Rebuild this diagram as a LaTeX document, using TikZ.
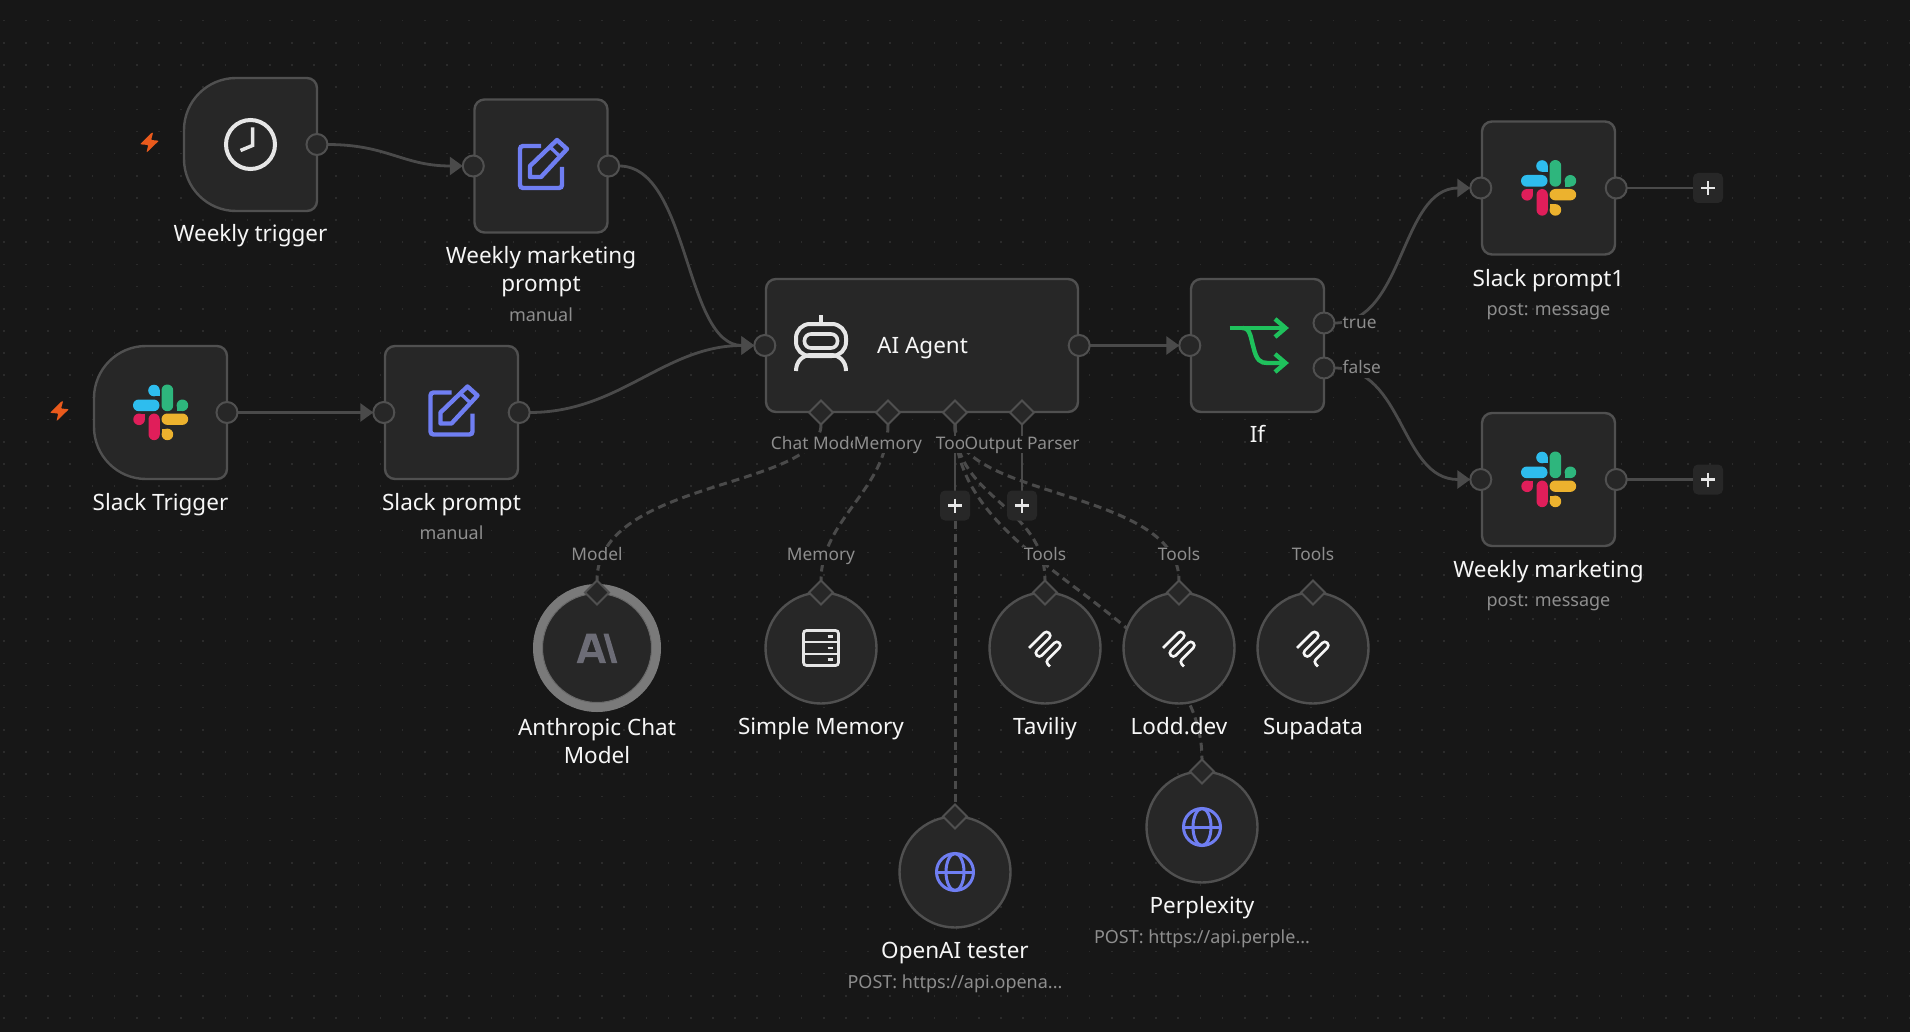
\documentclass[tikz,border=0pt]{standalone}
\usepackage{fontspec}
\setmainfont{Noto Sans}
\usetikzlibrary{arrows.meta,shapes.geometric}
\pgfdeclarelayer{wires}\pgfdeclarelayer{under}
\pgfsetlayers{under,wires,main}
\definecolor{bgc}{HTML}{171717}
\definecolor{dotc}{HTML}{2B2B2B}
\definecolor{bodyc}{HTML}{272727}
\definecolor{edgec}{HTML}{505050}
\definecolor{wirec}{HTML}{4A4A4A}
\definecolor{namec}{HTML}{F6F6F6}
\definecolor{subc}{HTML}{8E8E8E}
\definecolor{iconw}{HTML}{E6E6E6}
\definecolor{blueic}{HTML}{6F7EF2}
\definecolor{greenic}{HTML}{1FC15C}
\definecolor{boltc}{HTML}{EA5A1C}
\definecolor{slb}{HTML}{2EBDEE}
\definecolor{slg}{HTML}{2EB67D}
\definecolor{slr}{HTML}{E01E5A}
\definecolor{sly}{HTML}{ECB22E}
\definecolor{ringc}{HTML}{7A7A7A}
\definecolor{anthc}{HTML}{6C6C76}
\tikzset{
  bodypath/.style={fill=bodyc,draw=edgec,line width=2.4pt},
  box/.style={bodypath,rectangle,rounded corners=10pt,minimum width=133pt,minimum height=133pt,inner sep=0pt},
  agentbox/.style={bodypath,rectangle,rounded corners=10pt,minimum width=312pt,minimum height=133pt,inner sep=0pt},
  round/.style={bodypath,circle,minimum size=111pt,inner sep=0pt},
  port/.style={circle,fill=bodyc,draw=edgec,line width=2pt,minimum size=21pt,inner sep=0pt,outer sep=0pt},
  socket/.style={diamond,fill=bodyc,draw=edgec,line width=2pt,minimum width=24pt,minimum height=24pt,inner sep=0pt,aspect=1,outer sep=0pt},
  plusbox/.style={rectangle,fill=bodyc,rounded corners=5pt,minimum size=30pt,inner sep=0pt,outer sep=0pt},
  wire/.style={draw=wirec,line width=2.8pt},
  dwire/.style={wire,line width=3pt,dash pattern=on 8pt off 5pt},
  tip/.style={-{Triangle[length=13pt,width=18pt]}},
  nameline/.style={text=namec,align=center,inner sep=0pt,font=\fontsize{22.5}{28}\selectfont},
  one/.style={nameline,text height=16pt,text depth=0.5pt},
  subline/.style={text=subc,inner sep=0pt,font=\fontsize{18}{22}\selectfont,text height=13pt,text depth=1pt},
  tag/.style={text=subc,fill=bgc,inner sep=0.5pt,font=\fontsize{17.3}{22}\selectfont,text height=13pt,text depth=3.5pt},
  trigbody/.pic={\draw[bodypath] (-14.5,-66.5) -- (56.5,-66.5) .. controls (62,-66.5) and (66.5,-62) .. (66.5,-56.5) -- (66.5,56.5) .. controls (66.5,62) and (62,66.5) .. (56.5,66.5) -- (-14.5,66.5) .. controls (-43.2,66.5) and (-66.5,43.2) .. (-66.5,14.5) -- (-66.5,-14.5) .. controls (-66.5,-43.2) and (-43.2,-66.5) .. (-14.5,-66.5) -- cycle;},
  bolt/.pic={\fill[boltc,rounded corners=0.8pt] (2.3,-10.3) -- (-9.5,1.3) -- (-1.3,2) -- (-3,9.7) -- (9.4,-2.3) -- (1.6,-3) -- (3.6,-10.3) -- cycle;},
  clockicon/.pic={\draw[iconw,line width=4pt] (0,0) circle (24.5pt);
    \draw[iconw,line width=3.5pt] (2,-17) -- (2,1) -- (-10,6);},
  editicon/.pic={\draw[blueic,line width=4.4pt,rounded corners=3pt] (0,-20) -- (-21,-20) -- (-21,22) -- (21,22) -- (21,1);
    \draw[blueic,line width=4.4pt,line join=round] (-11,11) -- (-11,0) -- (16,-26) -- (26,-17) -- (0,11) -- cycle;
    \draw[blueic,line width=3.4pt] (9,-19) -- (19.5,-9);},
  slacklogo/.pic={
    \fill[slb,rounded corners=5.8pt] (-27.5,-13) rectangle (-1,-1.3);
    \fill[slb] (-6.5,-22) circle (5.8pt); \fill[slb] (-6.5,-22) rectangle (-0.7,-16.2);
    \fill[slg,rounded corners=5.8pt] (1,-28) rectangle (12.7,-1.3);
    \fill[slg] (21.9,-7.2) circle (5.8pt); \fill[slg] (16,-7.2) rectangle (21.9,-1.3);
    \fill[slr,rounded corners=5.8pt] (-12,1) rectangle (-0.7,27.7);
    \fill[slr] (-21.4,6.8) circle (5.8pt); \fill[slr] (-21.4,1) rectangle (-15.6,6.8);
    \fill[sly,rounded corners=5.8pt] (1,1) rectangle (27.7,12.4);
    \fill[sly] (6.9,21.9) circle (5.8pt); \fill[sly] (1,16) rectangle (6.9,21.9);},
  roboticon/.pic={\begin{scope}[iconw,line width=4pt]
    \draw (0,-25) -- (0,-16);
    \draw[rounded corners=14pt] (-25,-16) rectangle (25,16);
    \draw[rounded corners=6.5pt,line width=3.6pt] (-16.5,-6) rectangle (16.5,8);
    \draw (-25,31) .. controls (-25,21) and (-18,15) .. (-10,15) -- (10,15) .. controls (18,15) and (25,21) .. (25,31);
    \end{scope}},
  ificon/.pic={\begin{scope}[greenic,line width=4.4pt]
    \draw (-28,-17.5) -- (28,-17.5);
    \draw (17.5,-26.5) -- (28,-17.5) -- (17.5,-8.5);
    \draw (-15,-17.5) .. controls (-7,-17.5) and (-7,-8) .. (-4,2) .. controls (-1,15) and (3,17.5) .. (10,17.5) -- (28,17.5);
    \draw (17.5,8.5) -- (28,17.5) -- (17.5,26.5);
    \end{scope}},
  anthicon/.pic={\fill[anthc,even odd rule] (-20.3,15) -- (-10.5,-14.3) -- (-1,-14.3) -- (9,15) -- (2.7,15) -- (0.6,9) -- (-11.7,9) -- (-13.8,15) -- cycle
      (-10,4) -- (-1,4) -- (-5.5,-9) -- cycle;
    \fill[anthc] (6.5,-14.3) -- (11.5,-14.3) -- (20.3,15) -- (14.7,15) -- cycle;},
  dbicon/.pic={\begin{scope}[iconw,line width=2.8pt]
    \draw[rounded corners=3pt] (-17.5,-17.5) rectangle (17.5,17.5);
    \draw (-17.5,-6) -- (17.5,-6);
    \draw (-17.5,6) -- (17.5,6);
    \draw (6.5,-11.8) -- (12,-11.8);
    \draw (6.5,0) -- (12,0);
    \draw (6.5,11.6) -- (12,11.6);
    \end{scope}},
  wireicon/.pic={\begin{scope}[x={(0.707pt,0.707pt)},y={(0.707pt,-0.707pt)}]
    \draw[namec,line width=2.6pt,rounded corners=3.4pt] (-11.3,-11.3) -- (13.5,-11.3) -- (13.5,-4) -- (-11,-4) -- (-11,3) -- (13.7,3) -- (13.7,10) -- (-9.5,10) -- (-9.5,16.5);
    \end{scope}},
  globeicon/.pic={\begin{scope}[blueic,line width=3pt]
    \draw (0,0) circle (18.5pt);
    \draw (0,0) ellipse (9pt and 18.5pt);
    \draw (-18.5,0) -- (18.5,0);
    \end{scope}},
  plusicon/.pic={\draw[iconw,line width=2.4pt] (-7,0) -- (7,0) (0,-7) -- (0,7);}
}
\begin{document}
\begin{tikzpicture}[x=1pt,y=-1pt]
\useasboundingbox (0,0) rectangle (1910,1032);
\begin{pgfonlayer}{under}
\fill[bgc] (0,0) rectangle (1910,1032);
\foreach \j in {0,...,46}{\draw[dotc,line width=1.6pt,dash pattern=on 1.6pt off 20.56pt] (3,{-1.46+22.16*\j}) -- (1910,{-1.46+22.16*\j});}
\end{pgfonlayer}

\coordinate (cwt) at (250.5,144.5);
\coordinate (cwm) at (541,166);
\coordinate (cst) at (160.5,412.5);
\coordinate (csp) at (451.5,412.5);
\coordinate (cag) at (922,345.5);
\coordinate (cif) at (1257.5,345.5);
\coordinate (csa) at (1548.5,188);
\coordinate (csb) at (1548.5,479.5);

% nodes that hold the ports
\pic at (cwt) {trigbody};
\pic at (cst) {trigbody};
\node[box] (wmbody) at (cwm) {};
\node[box] (spbody) at (csp) {};
\node[agentbox] (agbody) at (cag) {};
\node[box] (ifbody) at (cif) {};
\node[box] (sabody) at (csa) {};
\node[box] (sbbody) at (csb) {};

% ports
\node[port] (wtout) at (317,144.5) {};
\node[port] (wmin) at (wmbody.west) {};
\node[port] (wmout) at (wmbody.east) {};
\node[port] (stout) at (227,412.5) {};
\node[port] (spin) at (spbody.west) {};
\node[port] (spout) at (spbody.east) {};
\node[port] (agin) at (agbody.west) {};
\node[port] (agout) at (agbody.east) {};
\node[port] (ifin) at (ifbody.west) {};
\node[port] (iftrue) at (1324,323) {};
\node[port] (iffalse) at (1324,368) {};
\node[port] (sain) at (sabody.west) {};
\node[port] (saout) at (sabody.east) {};
\node[port] (sbin) at (sbbody.west) {};
\node[port] (sbout) at (sbbody.east) {};
\node[socket] (dchat) at (821,412.5) {};
\node[socket] (dmem) at (888,412.5) {};
\node[socket] (dtool) at (955,412.5) {};
\node[socket] (dout) at (1022,412.5) {};

\node[plusbox] (plusa) at (1708,188) {};
\node[plusbox] (plusb) at (1708,479.5) {};
\node[plusbox] (plusc) at (955,505.5) {};
\node[plusbox] (plusd) at (1022,505.5) {};

% circular nodes
\node[circle,draw=ringc,line width=10pt,minimum size=118pt,inner sep=0pt] (anthring) at (597,648) {};
\node[round,draw=ringc!80!bodyc,line width=1pt,minimum size=109pt] (anth) at (597,648) {};
\node[round] (simple) at (821,648) {};
\node[round] (tav) at (1045,648) {};
\node[round] (lodd) at (1179,648) {};
\node[round] (supa) at (1313,648) {};
\node[round] (perp) at (1202,827) {};
\node[round] (oai) at (955,872) {};
\node[socket] (danth) at (597,592.5) {};
\node[socket] (dsimple) at (821,592.5) {};
\node[socket] (dtav) at (1045,592.5) {};
\node[socket] (dlodd) at (1179,592.5) {};
\node[socket] (dsupa) at (1313,592.5) {};
\node[socket] (dperp) at (1202,771.5) {};
\node[socket] (doai) at (955,816.5) {};

% wires
\begin{pgfonlayer}{wires}
\draw[wire,tip] (wtout.east) .. controls +(60,0) and +(-60,0) .. (wmin.west);
\draw[wire,tip] (wmout.east) .. controls +(70,0) and +(-70,0) .. (agin.west);
\draw[wire,tip] (stout.east) -- (spin.west);
\draw[wire,tip] (spout.east) .. controls +(90,0) and +(-90,0) .. (agin.west);
\draw[wire,tip] (agout.east) -- (ifin.west);
\draw[wire,tip] (iftrue.east) .. controls +(70,0) and +(-70,0) .. (sain.west);
\draw[wire,tip] (iffalse.east) .. controls +(70,0) and +(-70,0) .. (sbin.west);
\draw[wire] (saout.east) -- (plusa.west);
\draw[wire] (sbout.east) -- (plusb.west);
\draw[wire] (dtool.south) -- (plusc.north);
\draw[wire] (dout.south) -- (plusd.north);
\draw[dwire] (dchat.south) .. controls +(0,65) and +(0,-102) .. (danth.north);
\draw[dwire] (dmem.south) .. controls +(0,65) and +(0,-62) .. (dsimple.north);
\draw[dwire] (plusc.south) -- (doai.north);
\draw[dwire] (dtool.south) .. controls +(0,75) and +(0,-75) .. (dtav.north);
\draw[dwire] (dtool.south) .. controls +(0,75) and +(0,-92) .. (dlodd.north);
\draw[dwire] (dtool.south) .. controls +(0,145) and +(0,-150) .. (dperp.north);
\end{pgfonlayer}

% tags on sockets
\node[tag] (tchat) at (817.5,444.5) {Chat Model};
\node[tag] (tmem) at (888,444.5) {Memory};
\node[tag] (ttool) at (957,444.5) {Tools};
\node[tag] (tout) at (1022,444.5) {Output Parser};
\node[tag] (tanth) at (597,556) {Model};
\node[tag] (tsimple) at (821,556) {Memory};
\node[tag] (ttav) at (1045,556) {Tools};
\node[tag] (tlodd) at (1179,556) {Tools};
\node[tag] (tsupa) at (1313,556) {Tools};
\node[tag,anchor=west] (ttrue) at (1342,324) {true};
\node[tag,anchor=west] (tfalse) at (1342,369) {false};

% icons
\pic at (149.5,143) {bolt};
\pic at (59.5,411.5) {bolt};
\pic at (cwt) {clockicon};
\pic at (cwm) {editicon};
\pic at (csp) {editicon};
\pic at (cst) {slacklogo};
\pic at (csa) {slacklogo};
\pic at (csb) {slacklogo};
\pic at (821,340) {roboticon};
\pic at (cif) {ificon};
\pic at (anth) {anthicon};
\pic at (simple) {dbicon};
\pic at (tav) {wireicon};
\pic at (lodd) {wireicon};
\pic at (supa) {wireicon};
\pic at (perp) {globeicon};
\pic at (oai) {globeicon};
\pic at (plusa) {plusicon};
\pic at (plusb) {plusicon};
\pic at (plusc) {plusicon};
\pic at (plusd) {plusicon};

% names
\node[one] (nwt) at (250.5,234) {Weekly trigger};
\node[nameline] (nwm) at (541,271.5) {Weekly marketing\\prompt};
\node[subline] (swm) at (541,315.5) {manual};
\node[one] (nst) at (160.5,503) {Slack Trigger};
\node[one] (nsp) at (451.5,503) {Slack prompt};
\node[subline] (ssp) at (451.5,533.5) {manual};
\node[one,anchor=west] (nag) at (877,345.5) {AI Agent};
\node[one] (nif) at (1257.5,435) {If};
\node[one] (nsa) at (1548.5,279) {Slack prompt1};
\node[subline] (ssa) at (1548.5,309.5) {post: message};
\node[one] (nsb) at (1548.5,570) {Weekly marketing};
\node[subline] (ssb) at (1548.5,600.5) {post: message};
\node[nameline] (nanth) at (597,741) {Anthropic Chat\\Model};
\node[one] (nsimple) at (821,727) {Simple Memory};
\node[one] (ntav) at (1045,727) {Taviliy};
\node[one] (nlodd) at (1179,727) {Lodd.dev};
\node[one] (nsupa) at (1313,727) {Supadata};
\node[one] (nperp) at (1202,906) {Perplexity};
\node[subline] (sperp) at (1202,937) {POST: https://api.perple...};
\node[one] (noai) at (955,951) {OpenAI tester};
\node[subline] (soai) at (955,982) {POST: https://api.opena...};
\end{tikzpicture}
\end{document}
